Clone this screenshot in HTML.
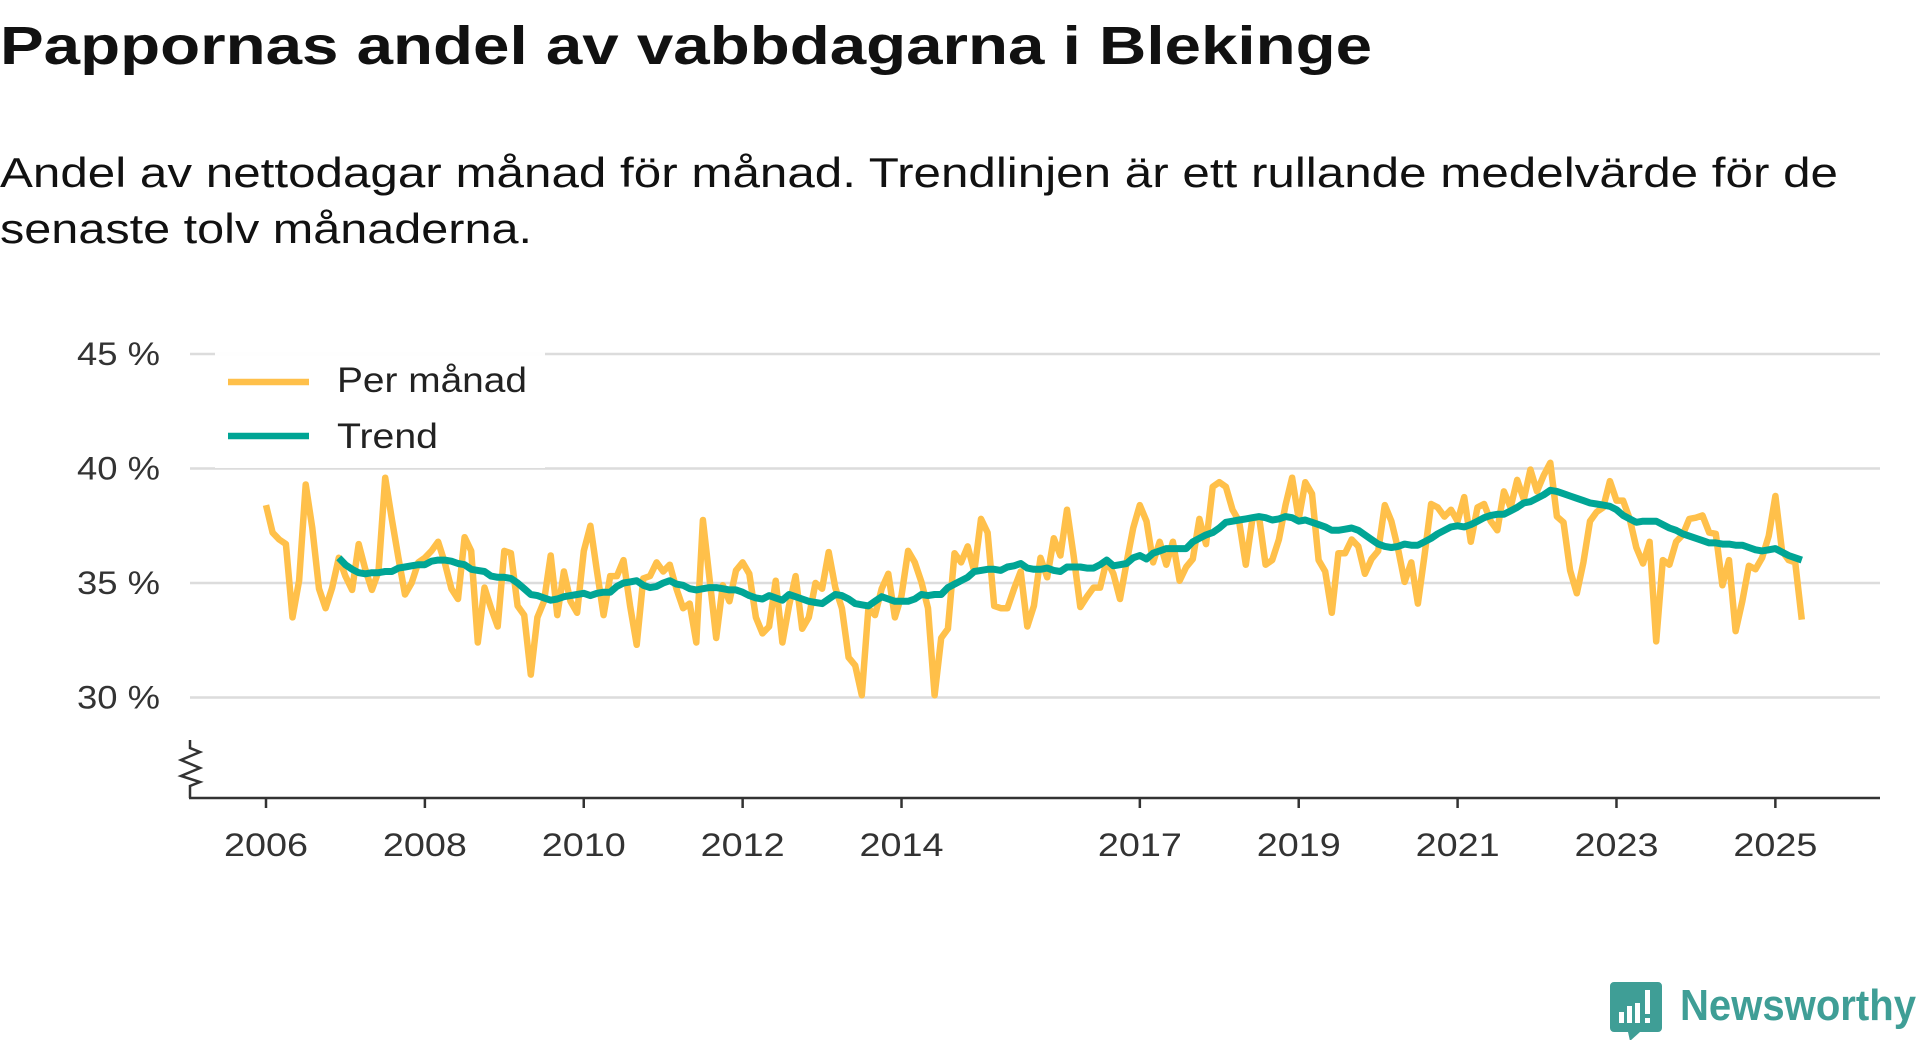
<!DOCTYPE html>
<html><head><meta charset="utf-8"><style>
html,body{margin:0;padding:0;background:#fff;}
svg{display:block;font-family:"Liberation Sans",sans-serif;}
</style></head><body>
<svg id="chart" width="1920" height="1040" viewBox="0 0 1920 1040" xmlns="http://www.w3.org/2000/svg">
<text x="0" y="64" font-size="54" font-weight="bold" fill="#111" textLength="1372" lengthAdjust="spacingAndGlyphs">Pappornas andel av vabbdagarna i Blekinge</text>
<text x="0" y="187" font-size="42" fill="#111" textLength="1838" lengthAdjust="spacingAndGlyphs">Andel av nettodagar månad för månad. Trendlinjen är ett rullande medelvärde för de</text>
<text x="0" y="243" font-size="42" fill="#111" textLength="532" lengthAdjust="spacingAndGlyphs">senaste tolv månaderna.</text>
<g id="grid"></g>
<g id="yaxis"></g>
<g id="xaxis"></g>
<g id="series"></g>
<g>
<rect x="215" y="350" width="330" height="118" fill="#fff" fill-opacity="0.95"/>
<line x1="228" y1="382" x2="309" y2="382" stroke="#ffc04a" stroke-width="6.5"/>
<text x="337" y="392" font-size="35" fill="#222" textLength="190" lengthAdjust="spacingAndGlyphs">Per månad</text>
<line x1="228" y1="436" x2="309" y2="436" stroke="#00a595" stroke-width="6.5"/>
<text x="337" y="448" font-size="35" fill="#222" textLength="101" lengthAdjust="spacingAndGlyphs">Trend</text>
</g>
<g>
<path d="M1614 982 h44 a4 4 0 0 1 4 4 v42 a4 4 0 0 1 -4 4 h-18 l-10 9 l-2 -9 h-14 a4 4 0 0 1 -4 -4 v-42 a4 4 0 0 1 4 -4z" fill="#3f9e96"/>
<rect x="1619" y="1012" width="5" height="11" fill="#fff"/>
<rect x="1627" y="1006" width="5" height="17" fill="#fff"/>
<rect x="1635" y="1003" width="5" height="20" fill="#fff"/>
<rect x="1645" y="990" width="5" height="24" fill="#fff"/>
<rect x="1645" y="1018" width="5" height="5" fill="#fff"/>
<text x="1680" y="1020" font-size="44" font-weight="bold" fill="#3f9e96" textLength="236" lengthAdjust="spacingAndGlyphs">Newsworthy</text>
</g>
</svg>
<script>
const monthly = [38.4,37.2,36.9,36.7,33.5,35.1,39.3,37.4,34.75,33.9,34.8,36.1,
35.3,34.7,36.7,35.6,34.7,35.5,39.6,37.8,36.1,34.5,35.0,35.9,
36.1,36.4,36.8,35.9,34.75,34.3,37.0,36.4,32.4,34.8,33.9,33.1,
36.4,36.3,34.0,33.6,31.0,33.5,34.2,36.2,33.6,35.5,34.2,33.7,
36.4,37.5,35.5,33.6,35.3,35.3,36.0,34.0,32.3,35.2,35.3,35.9,
35.5,35.8,34.75,33.9,34.1,32.4,37.75,35.2,32.6,34.9,34.2,35.55,
35.9,35.4,33.5,32.8,33.1,35.1,32.4,34.0,35.3,33.0,33.5,35.0,
34.75,36.35,34.8,33.9,31.75,31.4,30.1,33.9,33.6,34.75,35.4,33.5,
34.45,36.4,35.9,35.05,33.9,30.1,32.6,33.0,36.3,35.9,36.6,35.5,
37.8,37.2,34.0,33.9,33.9,34.75,35.5,33.1,34.0,36.1,35.25,36.95,
36.2,38.2,36.2,33.95,34.4,34.8,34.8,36.0,35.4,34.3,35.9,37.4,
38.4,37.7,35.9,36.8,35.8,36.8,35.1,35.7,36.05,37.8,36.7,39.2,
39.4,39.2,38.2,37.7,35.8,37.8,37.9,35.8,36.0,36.9,38.4,39.6,
37.8,39.4,38.9,36.0,35.5,33.7,36.3,36.3,36.9,36.6,35.4,36.05,
36.4,38.4,37.7,36.5,35.05,35.9,34.1,36.2,38.45,38.3,37.9,38.2,
37.7,38.75,36.8,38.3,38.45,37.7,37.3,39.0,38.3,39.5,38.65,39.95,
39.0,39.7,40.25,37.9,37.65,35.55,34.55,35.9,37.7,38.1,38.3,39.45,
38.6,38.6,37.8,36.55,35.85,36.8,32.45,36.0,35.8,36.8,37.1,37.8,
37.85,37.95,37.2,37.15,34.9,36.0,32.9,34.2,35.75,35.6,36.1,37.05,
38.8,36.4,36.0,35.9,33.4];
const trendStart = 11;
const trend = [36.1,35.8,35.6,35.45,35.4,35.45,35.45,35.5,35.5,35.65,35.7,35.75,35.8,
35.8,35.95,36.0,36.0,35.95,35.85,35.8,35.6,35.55,35.5,35.3,35.25,
35.25,35.2,35.0,34.75,34.5,34.45,34.35,34.25,34.3,34.4,34.45,34.5,
34.55,34.45,34.55,34.6,34.6,34.85,35.0,35.05,35.1,34.9,34.8,34.85,
35.0,35.1,34.95,34.9,34.75,34.7,34.75,34.8,34.8,34.75,34.7,34.7,
34.6,34.45,34.35,34.3,34.45,34.35,34.25,34.5,34.4,34.3,34.2,34.15,
34.1,34.3,34.5,34.45,34.3,34.1,34.05,34.0,34.2,34.4,34.3,34.2,
34.2,34.2,34.3,34.5,34.45,34.5,34.5,34.8,34.95,35.1,35.25,35.5,
35.55,35.6,35.6,35.55,35.7,35.75,35.85,35.65,35.6,35.6,35.65,35.55,
35.5,35.7,35.7,35.7,35.65,35.65,35.8,36.0,35.75,35.8,35.85,36.1,
36.2,36.05,36.3,36.4,36.5,36.5,36.5,36.5,36.8,36.95,37.1,37.2,
37.4,37.65,37.7,37.75,37.8,37.85,37.9,37.85,37.75,37.8,37.9,37.85,
37.7,37.75,37.65,37.55,37.45,37.3,37.3,37.35,37.4,37.3,37.1,36.9,
36.7,36.6,36.55,36.6,36.7,36.65,36.65,36.8,36.95,37.15,37.3,37.45,
37.5,37.45,37.55,37.7,37.85,37.95,38.0,38.0,38.15,38.3,38.5,38.55,
38.7,38.85,39.05,39.0,38.9,38.8,38.7,38.6,38.5,38.45,38.4,38.35,
38.2,37.95,37.8,37.65,37.7,37.7,37.7,37.55,37.4,37.3,37.15,37.05,
36.95,36.85,36.75,36.75,36.7,36.7,36.65,36.65,36.55,36.45,36.4,36.45,
36.5,36.35,36.2,36.1,36.0];
const yTicks = [30,35,40,45];
const yTickLabels = ["30 %","35 %","40 %","45 %"];
const xTickYears = [2006,2008,2010,2012,2014,2017,2019,2021,2023,2025];
const startYear = 2006;

const NS = "http://www.w3.org/2000/svg";
function xScale(m){ return 266 + m * 6.62; }
function yScale(v){ return 583 - (v - 35) * 22.9; }
function mk(tag, attrs, parent){ const e=document.createElementNS(NS,tag); for(const k in attrs) e.setAttribute(k,attrs[k]); parent.appendChild(e); return e; }

const grid=document.getElementById('grid'), yaxis=document.getElementById('yaxis'), xaxis=document.getElementById('xaxis'), series=document.getElementById('series');
yTicks.forEach((t,i)=>{
  const ln=mk('line',{x1:190,x2:1880,y1:yScale(t),y2:yScale(t),stroke:'#dcdcdc','stroke-width':2.5},grid);
  
  
  const tx=mk('text',{x:160,y:yScale(t)+11,'text-anchor':'end','font-size':32,fill:'#333',textLength:83,lengthAdjust:'spacingAndGlyphs'},yaxis);
  tx.textContent=yTickLabels[i];
  
  
});
const zig=mk('path',{d:'M190 740 L190 748 L200 752 L181 760 L200 768 L181 776 L200 782 L190 786 L190 798',fill:'none',stroke:'#333','stroke-width':2.5},yaxis);


const ax=mk('line',{x1:189,x2:1880,y1:798,y2:798,stroke:'#333','stroke-width':2.5},xaxis);


xTickYears.forEach(yr=>{
  const x=xScale((yr-startYear)*12);
  const tk=mk('line',{x1:x,x2:x,y1:798,y2:808,stroke:'#333','stroke-width':2.5},xaxis);
  
  
  const tx=mk('text',{x:x-42,y:856,'font-size':32,fill:'#333',textLength:84,lengthAdjust:'spacingAndGlyphs'},xaxis);
  tx.textContent=String(yr);
  
  
});
const pm=mk('polyline',{points:monthly.map((v,i)=>xScale(i).toFixed(1)+','+yScale(v).toFixed(1)).join(' '),fill:'none',stroke:'#ffc04a','stroke-width':6.5,'stroke-linejoin':'round'},series);


const tl=mk('polyline',{points:trend.map((v,i)=>xScale(i+trendStart).toFixed(1)+','+yScale(v).toFixed(1)).join(' '),fill:'none',stroke:'#00a595','stroke-width':7,'stroke-linejoin':'round'},series);


</script>
</body></html>
